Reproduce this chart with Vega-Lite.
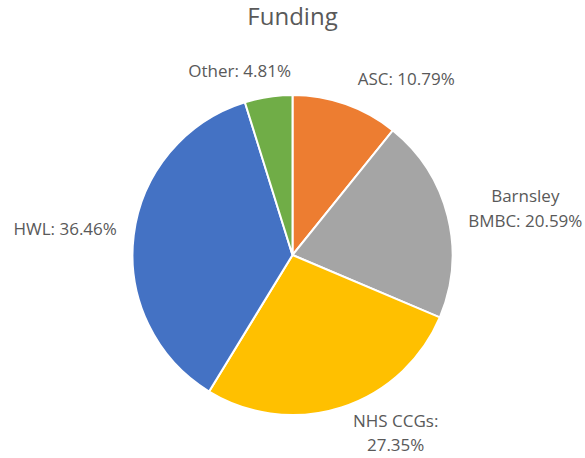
{
  "$schema": "https://vega.github.io/schema/vega-lite/v6.json",
  "width": 585,
  "height": 400,
  "autosize": "none",
  "padding": {"top": 55, "left": 0, "right": 0, "bottom": 3},
  "background": "white",
  "config": {"view": {"stroke": null}, "text": {"font": "Open Sans"}},
  "title": {"text": "Funding", "font": "Open Sans", "fontSize": 24, "fontWeight": "normal", "color": "#595959", "anchor": "middle", "baseline": "alphabetic", "offset": 6},
  "data": {"values": [
    {"order": 1, "category": "ASC", "value": 10.79, "label": "ASC: 10.79%"},
    {"order": 2, "category": "Barnsley BMBC", "value": 20.59, "label": "Barnsley\nBMBC: 20.59%"},
    {"order": 3, "category": "NHS CCGs", "value": 27.35, "label": "NHS CCGs:\n27.35%"},
    {"order": 4, "category": "HWL", "value": 36.46, "label": "HWL: 36.46%"},
    {"order": 5, "category": "Other", "value": 4.81, "label": "Other: 4.81%"}
  ]},
  "transform": [
    {"window": [{"op": "sum", "field": "value", "as": "cum"}], "sort": [{"field": "order"}], "frame": [null, 0]},
    {"calculate": "datum.cum - datum.value / 2", "as": "mid"}
  ],
  "layer": [
    {
      "mark": {"type": "arc", "radius": 160, "stroke": "white", "strokeWidth": 2},
      "encoding": {
        "theta": {"field": "value", "type": "quantitative", "stack": true, "scale": {"domain": [0, 100]}},
        "order": {"field": "order", "type": "quantitative"},
        "color": {"field": "category", "type": "nominal", "legend": null,
          "scale": {"domain": ["ASC", "Barnsley BMBC", "NHS CCGs", "HWL", "Other"],
                    "range": ["#ED7D31", "#A5A5A5", "#FFC000", "#4472C4", "#70AD47"]}}
      }
    },
    {
      "transform": [{"filter": "datum.category === 'ASC'"}],
      "mark": {"type": "text", "radius": 187, "align": "left", "baseline": "middle", "dx": 3, "dy": 1, "fontSize": 17, "fill": "#595959"},
      "encoding": {"theta": {"field": "mid", "type": "quantitative", "stack": null, "scale": {"domain": [0, 100]}}, "text": {"field": "label"}}
    },
    {
      "transform": [{"filter": "datum.category === 'Barnsley BMBC'"}],
      "mark": {"type": "text", "radius": 240, "align": "center", "baseline": "middle", "dy": 0, "lineBreak": "\n", "lineHeight": 25, "fontSize": 17, "fill": "#595959"},
      "encoding": {"theta": {"field": "mid", "type": "quantitative", "stack": null, "scale": {"domain": [0, 100]}}, "text": {"field": "label"}}
    },
    {
      "transform": [{"filter": "datum.category === 'NHS CCGs'"}],
      "mark": {"type": "text", "radius": 200, "align": "center", "baseline": "middle", "dx": 42, "dy": -23, "lineBreak": "\n", "lineHeight": 24, "fontSize": 17, "fill": "#595959"},
      "encoding": {"theta": {"field": "mid", "type": "quantitative", "stack": null, "scale": {"domain": [0, 100]}}, "text": {"field": "label"}}
    },
    {
      "transform": [{"filter": "datum.category === 'HWL'"}],
      "mark": {"type": "text", "radius": 177, "align": "right", "baseline": "middle", "dy": -3, "fontSize": 17, "fill": "#595959"},
      "encoding": {"theta": {"field": "mid", "type": "quantitative", "stack": null, "scale": {"domain": [0, 100]}}, "text": {"field": "label"}}
    },
    {
      "transform": [{"filter": "datum.category === 'Other'"}],
      "mark": {"type": "text", "radius": 185, "align": "center", "baseline": "middle", "dx": -25, "fontSize": 17, "fill": "#595959"},
      "encoding": {"theta": {"field": "mid", "type": "quantitative", "stack": null, "scale": {"domain": [0, 100]}}, "text": {"field": "label"}}
    }
  ]
}
